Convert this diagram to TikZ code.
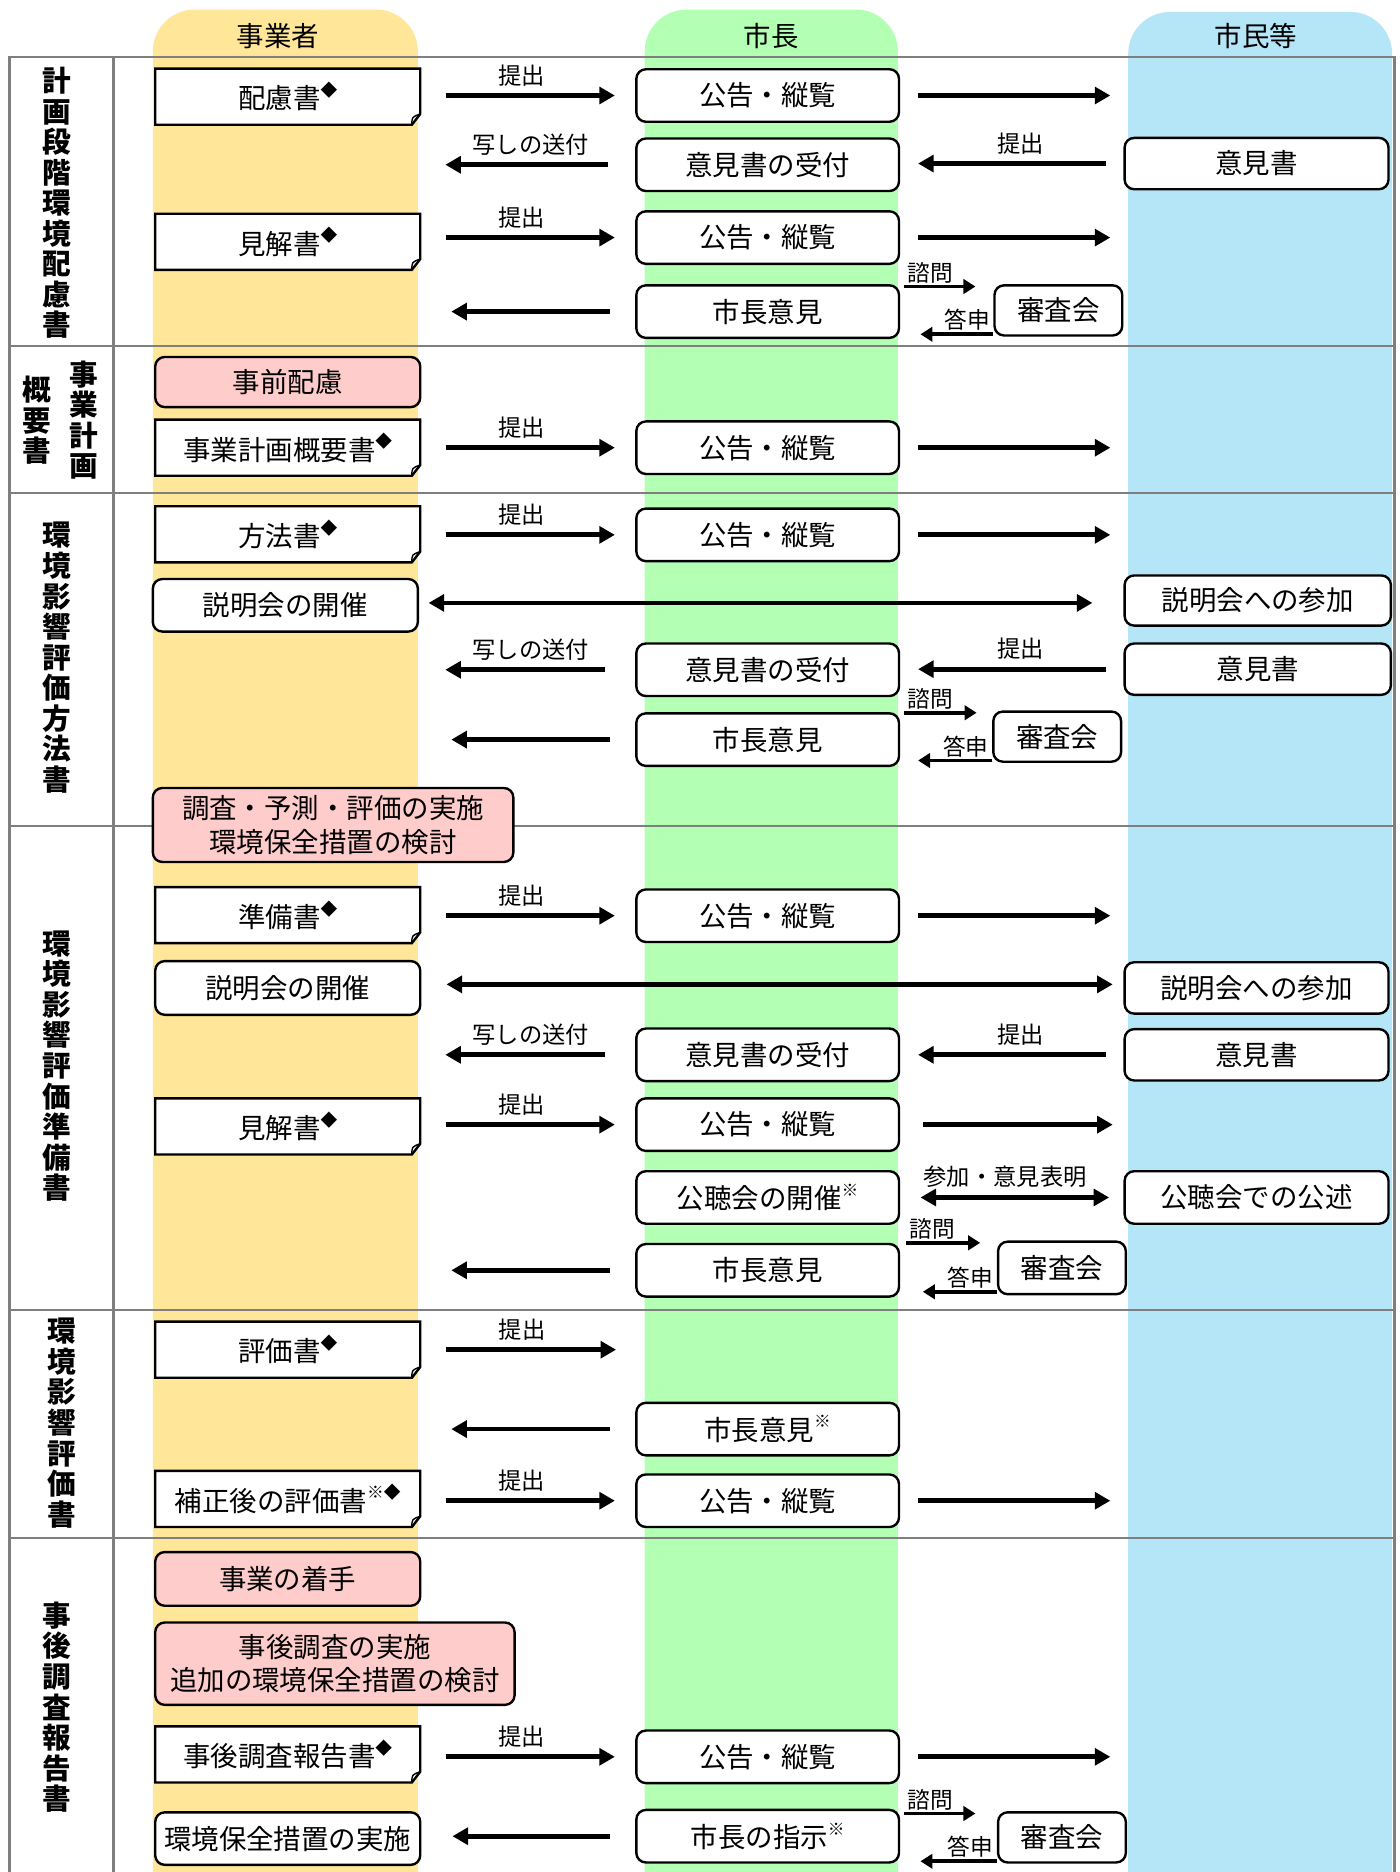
\documentclass[tikz,border=0pt]{standalone}
\usepackage{fontspec}
\setmainfont{Noto Sans CJK JP}
\usetikzlibrary{arrows.meta}
\definecolor{laneY}{HTML}{FFE699}
\definecolor{laneG}{HTML}{B3FFB3}
\definecolor{laneB}{HTML}{B4E6F8}
\definecolor{pinkc}{HTML}{FFCCCC}
\definecolor{gridc}{HTML}{7F7F7F}
\newcommand\ftBox{\fontsize{23}{28}\selectfont}
\newcommand\ftLab{\fontsize{19.5}{22}\selectfont}
\newcommand\ftSm{\fontsize{19}{21}\selectfont}
\newcommand\ftHd{\fontsize{23}{27}\selectfont}
\newcommand\ftVt{\fontsize{24}{25.6}\selectfont\bfseries}
\newcommand\supmark[1]{\raisebox{0.45em}{\fontsize{14}{14}\selectfont #1}}
\tikzset{
 box/.style={draw, line width=2pt, rounded corners=8pt, fill=white, minimum width=220pt, minimum height=44pt, inner sep=0pt, font=\ftBox},
 rbox/.style={box, minimum width=221pt, minimum height=43pt},
 pbox/.style={box, fill=pinkc, minimum width=222pt, minimum height=42pt},
 sbox/.style={box, minimum width=107pt, minimum height=42pt},
 doctxt/.style={minimum width=222pt, minimum height=47pt, inner sep=0pt, font=\ftBox},
 docline/.style={draw=black, line width=2pt, line join=miter},
 arr/.style={line width=4pt, -{Triangle[length=13pt,width=14pt]}},
 darr/.style={line width=4pt, {Triangle[length=13pt,width=14pt]}-{Triangle[length=13pt,width=14pt]}},
 sarr/.style={line width=3pt, -{Triangle[length=10pt,width=12pt]}},
 lab/.style={font=\ftLab, inner sep=2pt, above, yshift=4pt},
 slab/.style={font=\ftSm, inner sep=1.5pt},
 gridline/.style={draw=gridc, line width=2pt},
 hdr/.style={font=\ftHd},
 vlab/.style={font=\ftVt, align=center, inner sep=0pt},
}
\newcommand\docbox[4]{%
 \fill[white] ({#2-111},{#3-23.5}) -- ({#2+111},{#3-23.5}) -- ({#2+111},{#3+14.5}) -- ({#2+104},{#3+23.5}) -- ({#2-111},{#3+23.5}) -- cycle;
 \node[doctxt] (#1) at (#2,#3) {#4};
 \draw[docline] ({#2-111},{#3-23.5}) -- ({#2+111},{#3-23.5}) -- ({#2+111},{#3+14.5}) -- ({#2+104},{#3+23.5}) -- ({#2-111},{#3+23.5}) -- cycle;
 \draw[docline, line width=1.2pt] ({#2+104},{#3+23.5}) .. controls ({#2+104},{#3+17}) .. ({#2+111},{#3+14.5});
}
\begin{document}
\begin{tikzpicture}[x=1pt,y=-1pt]
\useasboundingbox (0,0) rectangle (1172,1568);
% lanes
\fill[laneY, rounded corners=35pt] (128,1650) -- (128,8) -- (350,8) -- (350,1650) -- cycle;
\fill[laneG, rounded corners=35pt] (540,1650) -- (540,8) -- (752,8) -- (752,1650) -- cycle;
\fill[laneB, rounded corners=35pt] (945,1650) -- (945,10) -- (1166,10) -- (1166,1650) -- cycle;
% grid
\draw[gridline] (8,1650) -- (8,48) -- (1168,48) -- (1168,1650);
\draw[gridline] (95,48) -- (95,1650);
\foreach \yy in {290,413,692,1097,1288} \draw[gridline] (8,\yy) -- (1168,\yy);
% headers
\node[hdr] (h1) at (233,30) {事業者};
\node[hdr] (h2) at (646,30) {市長};
\node[hdr] (h3) at (1052,30) {市民等};
% vertical section labels
\node[vlab] (v1) at (48,170) {計\\画\\段\\階\\環\\境\\配\\慮\\書};
\node[vlab] (v2a) at (70,352) {事\\業\\計\\画};
\node[vlab] (v2b) at (31,352) {概\\要\\書};
\node[vlab] (v3) at (48,551) {環\\境\\影\\響\\評\\価\\方\\法\\書};
\node[vlab] (v4) at (48,893) {環\\境\\影\\響\\評\\価\\準\\備\\書};
\node[vlab] (v5) at (52,1192) {環\\境\\影\\響\\評\\価\\書};
\node[vlab] (v6) at (48,1430) {事\\後\\調\\査\\報\\告\\書};

% ===== Section 1
\docbox{d1}{241}{81}{配慮書\supmark{◆}}
\node[box] (m1) at (643,80) {公告・縦覧};
\node[box] (m2) at (643,138) {意見書の受付};
\node[rbox] (r1) at (1052.5,137) {意見書};
\docbox{d2}{241}{202.5}{見解書\supmark{◆}}
\node[box] (m3) at (643,199) {公告・縦覧};
\node[box] (m4) at (643,261) {市長意見};
\node[sbox] (s1) at (886.5,260) {審査会};
\coordinate (e1) at (930,77);
\coordinate (w1) at (373,138);
\coordinate (e2) at (930,196);
\coordinate (w2) at (378,262);
\draw[arr, shorten <=21pt, shorten >=17pt] (d1.east |- m1.west) -- node[lab, pos=0.47] (t1) {提出} (m1.west);
\draw[arr, shorten <=15pt] (m1.east) -- (m1.east -| e1);
\draw[arr, shorten <=15pt, shorten >=15pt] (r1.west) -- node[lab, pos=0.46] (t2) {提出} (r1.west -| m2.east);
\draw[arr, shorten <=23pt] (m2.west) -- node[lab, pos=0.55] (t3) {写しの送付} (m2.west -| w1);
\draw[arr, shorten <=21pt, shorten >=17pt] (d2.east |- m3.west) -- node[lab, pos=0.47] (t4) {提出} (m3.west);
\draw[arr, shorten <=15pt] (m3.east) -- (m3.east -| e2);
\draw[arr, shorten <=21pt] (m4.west) -- (m4.west -| w2);
\draw[sarr, shorten <=3pt, shorten >=15pt] ([yshift=-2pt]s1.north west -| m4.east) -- node[slab, pos=0, above right, xshift=3pt] (q1) {諮問} ([yshift=-2pt]s1.north west);
\draw[sarr, shorten >=17pt] ([yshift=2pt]s1.south west) -- node[slab, pos=0, above left] (a1) {答申} ([yshift=2pt]s1.south west -| m4.east);

% ===== Section 2
\node[pbox] (p1) at (241,320) {事前配慮};
\docbox{d3}{241}{375}{事業計画概要書\supmark{◆}}
\node[box] (m5) at (643,375) {公告・縦覧};
\coordinate (e3) at (930,376);
\draw[arr, shorten <=21pt, shorten >=17pt] (d3.east |- m5.west) -- node[lab, pos=0.47] (t5) {提出} (m5.west);
\draw[arr, shorten <=15pt] (m5.east) -- (m5.east -| e3);

% ===== Section 3
\docbox{d4}{241}{447.5}{方法書\supmark{◆}}
\node[box] (m6) at (643,448) {公告・縦覧};
\coordinate (e4) at (930,448);
\node[box, minimum width=222pt] (l1) at (239,507) {説明会の開催};
\node[rbox, minimum width=223pt, minimum height=42pt] (r2) at (1053.5,503) {説明会への参加};
\node[box] (m7) at (643,561) {意見書の受付};
\node[rbox, minimum width=223pt] (r3) at (1053.5,560.5) {意見書};
\coordinate (w3) at (373,561);
\node[box] (m8) at (643,619.5) {市長意見};
\coordinate (w4) at (378,621);
\node[sbox] (s2) at (885.5,617) {審査会};
\draw[arr, shorten <=21pt, shorten >=17pt] (d4.east |- m6.west) -- node[lab, pos=0.47] (t6) {提出} (m6.west);
\draw[arr, shorten <=15pt] (m6.east) -- (m6.east -| e4);
\draw[darr, shorten <=8pt, shorten >=26pt] ([yshift=2pt]l1.east) -- ([yshift=2pt]l1.east -| r2.west);
\draw[arr, shorten <=15pt, shorten >=15pt] (r3.west) -- node[lab, pos=0.46] (t7) {提出} (r3.west -| m7.east);
\draw[arr, shorten <=25pt] (m7.west) -- node[lab, pos=0.55] (t8) {写しの送付} (m7.west -| w3);
\draw[arr, shorten <=21pt] (m8.west) -- (m8.west -| w4);
\draw[sarr, shorten <=3pt, shorten >=13pt] ([yshift=-2pt]s2.north west -| m8.east) -- node[slab, pos=0, above right, xshift=3pt] (q2) {諮問} ([yshift=-2pt]s2.north west);
\draw[sarr, shorten >=15pt] ([yshift=2pt]s2.south west) -- node[slab, pos=0, above left] (a2) {答申} ([yshift=2pt]s2.south west -| m8.east);
\node[pbox, minimum width=302pt, minimum height=62pt, align=center] (p2) at (279,691) {調査・予測・評価の実施\\環境保全措置の検討};

% ===== Section 4
\docbox{d5}{241}{766.5}{準備書\supmark{◆}}
\node[box] (m9) at (643,767) {公告・縦覧};
\coordinate (e5) at (930,765);
\node[box, minimum width=222pt, minimum height=45pt] (l2) at (241,827.5) {説明会の開催};
\node[rbox] (r4) at (1052.5,827.5) {説明会への参加};
\node[box] (m10) at (643,883.5) {意見書の受付};
\node[rbox] (r5) at (1052.5,883.5) {意見書};
\coordinate (w5) at (373,884);
\docbox{d6}{241}{943.5}{見解書\supmark{◆}}
\node[box] (m11) at (643,942) {公告・縦覧};
\coordinate (e6) at (932,943);
\node[box] (m12) at (643,1003) {公聴会の開催\supmark{※}};
\node[rbox, minimum height=44pt] (r6) at (1052.5,1003) {公聴会での公述};
\node[box] (m13) at (643,1064) {市長意見};
\coordinate (w6) at (378,1067);
\node[sbox, minimum height=44pt] (s3) at (889.5,1062) {審査会};
\draw[arr, shorten <=21pt, shorten >=17pt] (d5.east |- m9.west) -- node[lab, pos=0.47] (t9) {提出} (m9.west);
\draw[arr, shorten <=15pt] (m9.east) -- (m9.east -| e5);
\draw[darr, shorten <=21pt, shorten >=9pt] ([yshift=3pt]l2.east) -- ([yshift=3pt]l2.east -| r4.west);
\draw[arr, shorten <=15pt, shorten >=15pt] (r5.west) -- node[lab, pos=0.46] (t10) {提出} (r5.west -| m10.east);
\draw[arr, shorten <=25pt] (m10.west) -- node[lab, pos=0.55] (t11) {写しの送付} (m10.west -| w5);
\draw[arr, shorten <=21pt, shorten >=17pt] (d6.east |- m11.west) -- node[lab, pos=0.47] (t12) {提出} (m11.west);
\draw[arr, shorten <=19pt] (m11.east) -- (m11.east -| e6);
\draw[darr, shorten <=17pt, shorten >=12pt] (m12.east) -- node[lab, pos=0.47] (t13) {参加・意見表明} (r6.west);
\draw[arr, shorten <=21pt] (m13.west) -- (m13.west -| w6);
\draw[sarr, shorten <=5pt, shorten >=14pt] ([yshift=-2pt]s3.north west -| m13.east) -- node[slab, pos=0, above right, xshift=5pt] (q3) {諮問} ([yshift=-2pt]s3.north west);
\draw[sarr, shorten >=19pt] ([yshift=3pt]s3.south west) -- node[slab, pos=0, above left] (a3) {答申} ([yshift=3pt]s3.south west -| m13.east);

% ===== Section 5
\docbox{d7}{241}{1130.5}{評価書\supmark{◆}}
\coordinate (e7) at (516,1133);
\node[box] (m14) at (643,1197) {市長意見\supmark{※}};
\coordinate (w7) at (378,1197);
\docbox{d8}{241}{1255.5}{補正後の評価書\supmark{※◆}}
\node[box] (m15) at (643,1257) {公告・縦覧};
\coordinate (e8) at (930,1256);
\draw[arr, shorten <=21pt] (d7.east) -- node[lab, pos=0.52] (t14) {提出} (d7.east -| e7);
\draw[arr, shorten <=21pt] (m14.west) -- (m14.west -| w7);
\draw[arr, shorten <=21pt, shorten >=17pt] (d8.east |- m15.west) -- node[lab, pos=0.47] (t15) {提出} (m15.west);
\draw[arr, shorten <=15pt] (m15.east) -- (m15.east -| e8);

% ===== Section 6
\node[pbox, minimum height=45pt] (p3) at (241,1322.5) {事業の着手};
\node[pbox, minimum width=301pt, minimum height=69pt, align=center] (p4) at (280.5,1393.5) {事後調査の実施\\追加の環境保全措置の検討};
\docbox{d9}{241}{1469.5}{事後調査報告書\supmark{◆}}
\node[box] (m16) at (643,1471.5) {公告・縦覧};
\coordinate (e9) at (930,1471);
\node[box, minimum width=222pt] (l3) at (241,1540) {環境保全措置の実施};
\node[box] (m17) at (643,1538) {市長の指示\supmark{※}};
\node[sbox] (s4) at (889.5,1539) {審査会};
\draw[arr, shorten <=21pt, shorten >=17pt] (d9.east |- m16.west) -- node[lab, pos=0.47] (t16) {提出} (m16.west);
\draw[arr, shorten <=15pt] (m16.east) -- (m16.east -| e9);
\draw[arr, shorten <=21pt, shorten >=26pt] (m17.west) -- (m17.west -| l3.east);
\draw[sarr, shorten <=3pt, shorten >=18pt] ([yshift=-2pt]s4.north west -| m17.east) -- node[slab, pos=0, above right, xshift=3pt] (q4) {諮問} ([yshift=-2pt]s4.north west);
\draw[sarr, shorten >=17pt] ([yshift=2pt]s4.south west) -- node[slab, pos=0, above left] (a4) {答申} ([yshift=2pt]s4.south west -| m17.east);
\end{tikzpicture}
\end{document}
